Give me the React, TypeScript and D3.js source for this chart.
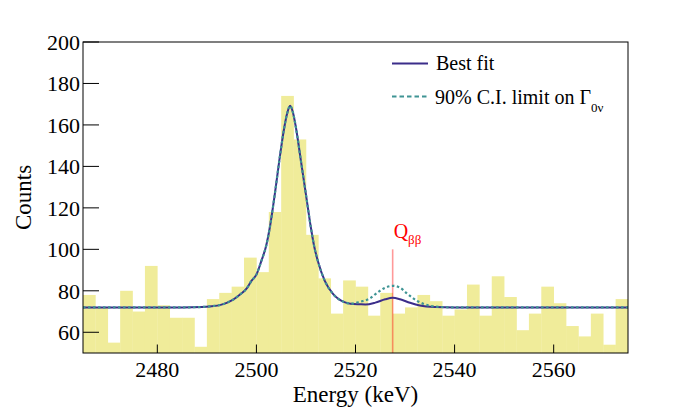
import * as d3 from 'd3';

const WIDTH = 698;
const HEIGHT = 412;
const MARGIN = { top: 42, right: 70, bottom: 59, left: 83 };
const FONT = "'Liberation Serif', 'Times New Roman', serif";

// histogram: 2.5 keV bins from 2465 keV
const BIN_START = 2465;
const BIN_WIDTH = 2.5;
const counts = [
  78, 72, 55, 80, 70, 92, 73, 67, 67, 53,
  76, 79, 82, 96, 89, 118, 174, 153, 107, 86,
  69, 85, 82, 68, 79, 69, 72, 78, 75, 68,
  71, 83, 68, 87, 77, 61, 69, 82, 74, 63,
  58, 69, 54, 76,
];

// best fit curve [energy, counts]
const bestFit: [number, number][] = [
  [2465, 72], [2485, 72], [2489, 72.2], [2491, 72.6], [2492.6, 73.1],
  [2494, 74.2], [2495.3, 75.7], [2496.7, 78.2], [2498, 81], [2499, 84.8],
  [2500, 87.8], [2501, 94.4], [2502, 102], [2502.7, 110.4], [2503.7, 126.4],
  [2504.6, 142.4], [2505.6, 158.4], [2506.2, 165.5], [2506.8, 169.3],
  [2507.4, 165.8], [2508, 158.4], [2509, 142.4], [2510, 126.4], [2511, 110.4],
  [2511.7, 101], [2512.4, 94.4], [2513.8, 84.8], [2515.5, 78.4], [2517.9, 74.4],
  [2519, 73.8], [2520.9, 73.5], [2522, 73.4], [2524, 74.3], [2526, 75.9],
  [2527.5, 76.6], [2529, 75.9], [2531, 74.2], [2533, 72.9], [2536, 72.2],
  [2540, 72], [2575, 72],
];

// 90% C.I. limit curve around Q_bb (elsewhere identical to best fit)
const limitBump: [number, number][] = [
  [2520.9, 74.7], [2522.9, 76.3], [2524.3, 78.9], [2526, 81.5], [2527.5, 82.4],
  [2529, 81.5], [2530.3, 78.9], [2532.4, 75.2], [2535, 72.8], [2538, 72.1],
];

const Q_BB = 2527.5;

const xTicks = [2480, 2500, 2520, 2540, 2560];
const yTicks = [60, 80, 100, 120, 140, 160, 180, 200];

const FILL = '#f0ec9a';
const FIT_COLOR = '#3b2d8a';
const LIMIT_COLOR = '#3f9494';

export default function App() {
  const innerW = WIDTH - MARGIN.left - MARGIN.right;
  const innerH = HEIGHT - MARGIN.top - MARGIN.bottom;

  const xScale = d3.scaleLinear().domain([2465, 2575]).range([0, innerW]);
  const yScale = d3.scaleLinear().domain([50, 200]).range([innerH, 0]);

  const limitCurve = bestFit
    .filter((p) => p[0] < 2520 || p[0] > 2538)
    .concat(limitBump)
    .sort((a, b) => a[0] - b[0]);

  const line = d3
    .line<[number, number]>()
    .x((d) => xScale(d[0]))
    .y((d) => yScale(d[1]))
    .curve(d3.curveMonotoneX);

  const bars = counts.map((c, i) => {
    const x0 = xScale(BIN_START + i * BIN_WIDTH);
    const x1 = xScale(BIN_START + (i + 1) * BIN_WIDTH);
    return (
      <rect
        key={i}
        x={x0}
        y={yScale(c)}
        width={x1 - x0 + 0.3}
        height={innerH - yScale(c)}
        fill={FILL}
      />
    );
  });

  const qx = xScale(Q_BB);

  return (
    <svg
      width={WIDTH}
      height={HEIGHT}
      style={{ position: 'absolute', left: 0, top: 0, background: '#fff', fontFamily: FONT }}
    >
      <defs>
        <clipPath id="plot-clip">
          <rect x={0} y={0} width={innerW} height={innerH} />
        </clipPath>
      </defs>
      <g transform={'translate(' + MARGIN.left + ',' + MARGIN.top + ')'}>
        <g clipPath="url(#plot-clip)">
          {bars}
          <line
            x1={qx}
            x2={qx}
            y1={yScale(100)}
            y2={innerH}
            stroke="#ff0000"
            strokeOpacity={0.4}
            strokeWidth={1.6}
          />
          <path d={line(bestFit)!} fill="none" stroke={FIT_COLOR} strokeWidth={2} />
          <path
            d={line(limitCurve)!}
            fill="none"
            stroke={LIMIT_COLOR}
            strokeWidth={2.2}
            strokeDasharray="2.5 2.5"
          />
        </g>

        <text x={qx + 1} y={yScale(100) - 11} fill="#ff0000" fontSize={20}>
          Q
          <tspan fontSize={13} dy={6}>ββ</tspan>
        </text>

        {/* frame */}
        <rect x={0} y={0} width={innerW} height={innerH} fill="none" stroke="#000" strokeWidth={1} />

        {/* x axis ticks */}
        {xTicks.map((t) => (
          <g key={t} transform={'translate(' + xScale(t) + ',0)'}>
            <line y1={innerH} y2={innerH - 8.5} stroke="#000" strokeWidth={1} />
            <text y={innerH + 23.5} textAnchor="middle" fontSize={22} fill="#000">
              {t}
            </text>
          </g>
        ))}

        {/* y axis ticks */}
        {yTicks.map((t) => (
          <g key={t} transform={'translate(0,' + yScale(t) + ')'}>
            <line x1={0} x2={16} stroke="#000" strokeWidth={1} />
            <text x={-3} dy="0.35em" textAnchor="end" fontSize={22} fill="#000">
              {t}
            </text>
          </g>
        ))}

        <text
          x={innerW / 2}
          y={innerH + 49}
          textAnchor="middle"
          fontSize={23}
          fill="#000"
        >
          Energy (keV)
        </text>
        <text
          transform={'translate(' + (-52) + ',' + innerH / 2 + ') rotate(-90)'}
          textAnchor="middle"
          fontSize={23}
          fill="#000"
        >
          Counts
        </text>

        {/* legend */}
        <g transform={'translate(' + (392 - MARGIN.left) + ',' + (63.5 - MARGIN.top) + ')'}>
          <line x1={0} x2={36} y1={0} y2={0} stroke={FIT_COLOR} strokeWidth={2} />
          <text x={44} y={6.5} fontSize={20} fill="#000">
            Best fit
          </text>
          <line
            x1={0}
            x2={36}
            y1={33}
            y2={33}
            stroke={LIMIT_COLOR}
            strokeWidth={2}
            strokeDasharray="4.5 3"
          />
          <text x={43} y={40} fontSize={20} fill="#000">
            90% C.I. limit on Γ
            <tspan fontSize={13} dy={8}>0ν</tspan>
          </text>
        </g>
      </g>
    </svg>
  );
}
